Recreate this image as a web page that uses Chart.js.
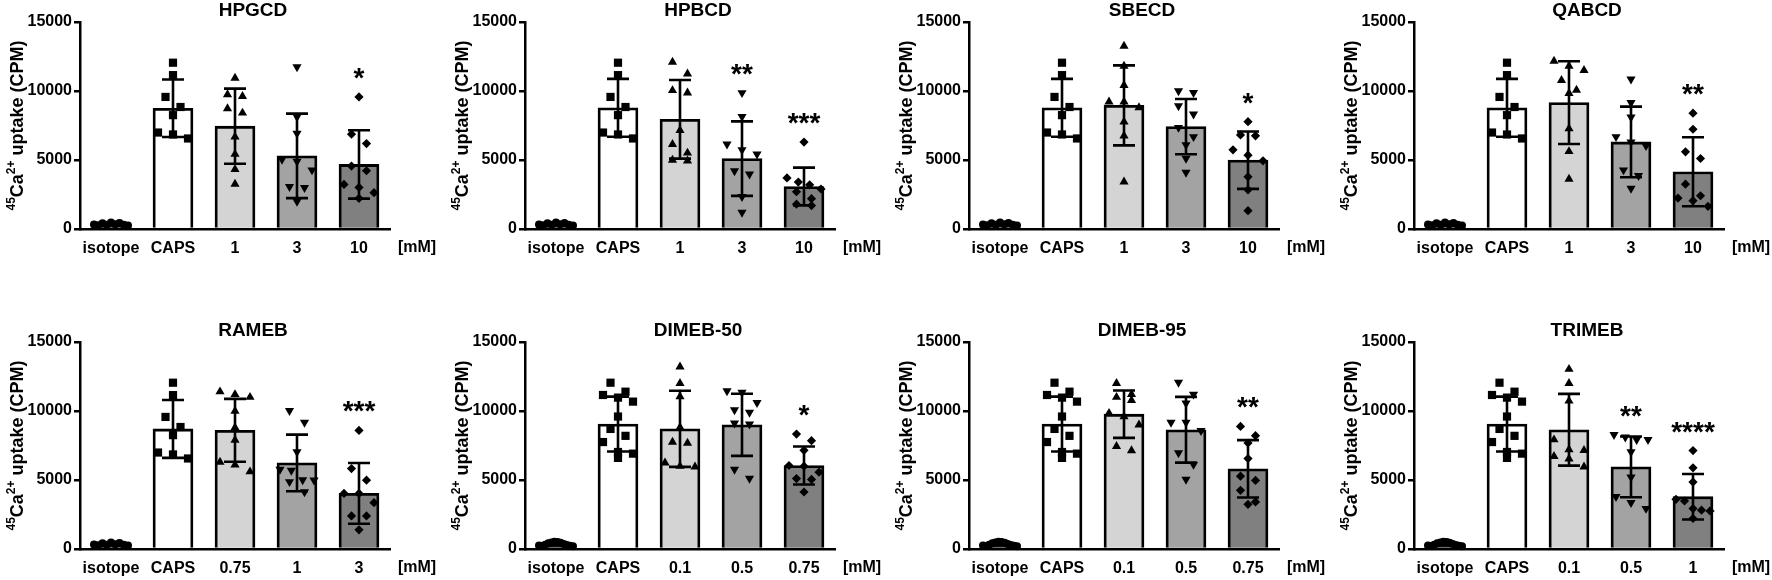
<!DOCTYPE html>
<html>
<head>
<meta charset="utf-8">
<script src="https://cdn.jsdelivr.net/npm/chart.js@4.4.1/dist/chart.umd.min.js"></script>
<style>
  html, body { margin: 0; padding: 0; background: #fff; width: 1772px; height: 580px; overflow: hidden; }
  canvas { position: absolute; }
</style>
</head>
<body>
<script>
// panel titles and x categories
const panelTitles = ["HPGCD", "HPBCD", "SBECD", "QABCD", "RAMEB", "DIMEB-50", "DIMEB-95", "TRIMEB"];
const doseLabels = [
  ["isotope", "CAPS", "1", "3", "10"],
  ["isotope", "CAPS", "1", "3", "10"],
  ["isotope", "CAPS", "1", "3", "10"],
  ["isotope", "CAPS", "1", "3", "10"],
  ["isotope", "CAPS", "0.75", "1", "3"],
  ["isotope", "CAPS", "0.1", "0.5", "0.75"],
  ["isotope", "CAPS", "0.1", "0.5", "0.75"],
  ["isotope", "CAPS", "0.1", "0.5", "1"],
];
const yTicks = [0, 5000, 10000, 15000];

// bar heights (mean) and SD per panel
const barMeans = [
  [360, 8750, 7450, 5300, 4680],
  [360, 8780, 7950, 5100, 3080],
  [360, 8780, 8960, 7420, 4990],
  [360, 8780, 9160, 6310, 4150],
  [360, 8700, 8600, 6240, 4030],
  [360, 9050, 8710, 9000, 6050],
  [360, 9050, 9770, 8640, 5810],
  [360, 9050, 8640, 5950, 3790],
];
const barSD = [
  [80, 2080, 2720, 3060, 2480],
  [80, 2100, 2850, 2700, 1370],
  [80, 2100, 2900, 2000, 2080],
  [80, 2100, 3000, 2560, 2500],
  [80, 2100, 2280, 2050, 2200],
  [100, 1990, 2760, 2250, 1380],
  [100, 1990, 1720, 2380, 2080],
  [100, 1990, 2600, 2200, 1650],
];
const starLabels = [
  ["", "", "", "", "*"],
  ["", "", "", "**", "***"],
  ["", "", "", "", "*"],
  ["", "", "", "", "**"],
  ["", "", "", "", "***"],
  ["", "", "", "", "*"],
  ["", "", "", "", "**"],
  ["", "", "", "**", "****"],
];

// individual measurements
const isotopeA = [330, 270, 420, 300, 480, 350, 440, 300, 250];
const isotopeB = [250, 220, 300, 410, 480, 530, 510, 460, 370, 290, 240, 200];
const capsA = [12050, 11150, 9570, 8840, 8250, 6990, 6850, 6560];
const capsB = [12050, 11400, 11160, 10970, 10680, 9600, 8700, 8200, 7750, 7030, 6910, 6600];

const hpgcdPts = [
  [10940, 9740, 9620, 8720, 8410, 6680, 5420, 4330, 3250],
  [11740, 8120, 6920, 5040, 4900, 4270, 3060, 3000, 2000],
  [9570, 6870, 6190, 4560, 4220, 3230, 3010, 2630, 2220],
];
const hpbcdPts = [
  [12090, 11250, 10040, 9870, 7150, 6140, 5510, 4990, 4940],
  [9870, 8140, 6140, 5730, 5420, 4210, 3970, 2340, 1200],
  [6300, 3700, 3400, 3200, 2900, 2700, 2200, 1800, 1700],
];
const sbecdPts = [
  [13250, 11810, 10410, 9210, 9210, 8800, 7760, 6750, 3420],
  [10000, 9880, 8920, 8320, 7350, 6680, 6100, 5110, 4100],
  [7780, 6820, 6750, 5740, 5350, 4940, 3780, 2840, 1330],
];
const qabcdPts = [
  [12170, 11810, 11500, 10770, 10070, 9830, 7280, 5620, 3620],
  [10850, 9160, 8100, 6680, 6300, 6030, 4270, 3860, 2940],
  [8390, 7230, 5590, 5110, 3250, 2410, 2240, 2050, 1640],
];
const ramebPts = [
  [11400, 11200, 11000, 10000, 8800, 7900, 6300, 6100, 5600],
  [10030, 9170, 7030, 5760, 5690, 5000, 4990, 4870, 4130],
  [8590, 5830, 4990, 4030, 4030, 3360, 2400, 2400, 1390],
];
const dimeb50Pts = [
  [13200, 12000, 11040, 8810, 7750, 7680, 6240, 6000, 5950],
  [11450, 11350, 10610, 10080, 9900, 9120, 9050, 5760, 5110],
  [8330, 7850, 7150, 6050, 6000, 5570, 5100, 5040, 4130],
];
const dimeb95Pts = [
  [12000, 11210, 11000, 10780, 9840, 9600, 9000, 7440, 7130],
  [12070, 11210, 10560, 9170, 9170, 8570, 6960, 6120, 5040],
  [8880, 8210, 7680, 6550, 5280, 4970, 4250, 3410, 3240],
];
const trimebPts = [
  [13030, 12000, 10730, 7920, 7200, 7150, 6720, 6530, 5950],
  [8280, 8110, 7920, 7920, 7030, 5210, 3790, 3360, 2930],
  [7130, 5880, 4850, 3600, 3480, 2930, 2810, 2760, 2210],
];

const panelPoints = [
  [isotopeA, capsA, ...hpgcdPts],
  [isotopeA, capsA, ...hpbcdPts],
  [isotopeA, capsA, ...sbecdPts],
  [isotopeA, capsA, ...qabcdPts],
  [isotopeA, capsA, ...ramebPts],
  [isotopeB, capsB, ...dimeb50Pts],
  [isotopeB, capsB, ...dimeb95Pts],
  [isotopeB, capsB, ...trimebPts],
];

// look
const FONT = "'Liberation Sans', Arial, sans-serif";
const barFills = ["#3c3c3c", "#ffffff", "#d4d4d4", "#a3a3a3", "#808080"];
const markers = [
  { style: "circle", rot: 0, r: 4 },
  { style: "rect", rot: 0, r: 5.8 },
  { style: "triangle", rot: 0, r: 5.3 },
  { style: "triangle", rot: 180, r: 5.3 },
  { style: "rectRot", rot: 0, r: 4.6 },
];
const PLOT_TOP = 22, PLOT_H = 207, PLOT_W = 310, AXIS_LEFT = 80;

Chart.defaults.font.family = FONT;
Chart.defaults.color = "#000";

// spread points sideways like a scatter dot plot (layout only)
function spreadX(values, idx) {
  const pxPerVal = PLOT_H / 15000, pxPerCat = PLOT_W / 5;
  const order = values.map((v, k) => k).sort((a, b) => values[b] - values[a]);
  const clusters = [];
  order.forEach(k => {
    const last = clusters[clusters.length - 1];
    if (last && (values[last[0]] - values[k]) * pxPerVal < 12) last.push(k);
    else clusters.push([k]);
  });
  const pts = [];
  clusters.forEach(c => {
    c.sort((a, b) => a - b);
    const gap = c.length > 1 ? Math.min(15, 34 / (c.length - 1)) : 0;
    c.forEach((k, j) => {
      const dx = (j - (c.length - 1) / 2) * gap;
      pts.push({ x: idx + dx / pxPerCat, y: values[k] });
    });
  });
  return pts;
}

const panelDecor = {
  id: "panelDecor",
  afterDatasetDraw(chart, args, opts) {
    if (args.index !== 0) return;
    const p = opts.panel;
    const { ctx } = chart;
    const x = chart.scales.x, y = chart.scales.y;
    ctx.save();
    ctx.strokeStyle = "#000";
    ctx.lineWidth = 2.6;
    barMeans[p].forEach((m, i) => {
      const cx = x.getPixelForValue(i);
      const top = y.getPixelForValue(m + barSD[p][i]);
      const bot = y.getPixelForValue(Math.max(0, m - barSD[p][i]));
      ctx.beginPath();
      ctx.moveTo(cx, top); ctx.lineTo(cx, bot);
      ctx.moveTo(cx - 11, top); ctx.lineTo(cx + 11, top);
      ctx.moveTo(cx - 11, bot); ctx.lineTo(cx + 11, bot);
      ctx.stroke();
    });
    ctx.restore();
  },
  afterDraw(chart, args, opts) {
    const p = opts.panel;
    const { ctx, chartArea } = chart;
    const x = chart.scales.x, y = chart.scales.y;
    ctx.save();
    ctx.fillStyle = "#000";

    // title
    ctx.font = "bold 19px " + FONT;
    ctx.textAlign = "center";
    ctx.textBaseline = "middle";
    ctx.fillText(panelTitles[p], (chartArea.left + chartArea.right) / 2 + 18, 11);

    // unit label
    ctx.font = "bold 16px " + FONT;
    ctx.fillText("[mM]", chartArea.right + 27, chartArea.bottom + 19);

    // significance stars
    ctx.font = "bold 28px " + FONT;
    ctx.textBaseline = "alphabetic";
    starLabels[p].forEach((s, i) => {
      if (!s) return;
      const top = Math.max(...panelPoints[p][i]);
      const yc = y.getPixelForValue(top) - 26;
      ctx.fillText(s, x.getPixelForValue(i), yc + 16);
    });

    // y axis title with superscripts
    const parts = [
      { t: "45", sup: true },
      { t: "Ca", sup: false },
      { t: "2+", sup: true },
      { t: " uptake (CPM)", sup: false },
    ];
    const mainFont = "bold 18px " + FONT, supFont = "bold 12px " + FONT;
    let total = 0;
    parts.forEach(pt => {
      ctx.font = pt.sup ? supFont : mainFont;
      pt.w = ctx.measureText(pt.t).width;
      total += pt.w;
    });
    ctx.translate(17, (chartArea.top + chartArea.bottom) / 2);
    ctx.rotate(-Math.PI / 2);
    ctx.textAlign = "left";
    let u = -total / 2;
    parts.forEach(pt => {
      ctx.font = pt.sup ? supFont : mainFont;
      ctx.fillText(pt.t, u, pt.sup ? -2 : 6);
      u += pt.w;
    });
    ctx.restore();
  },
};

panelTitles.forEach((title, p) => {
  const row = Math.floor(p / 4), col = p % 4;
  const canvas = document.createElement("canvas");
  const w = 443, h = row === 0 ? 300 : 260;
  canvas.width = w; canvas.height = h;
  canvas.style.left = Math.round(col * 444.67) + "px";
  canvas.style.top = (row * 320) + "px";
  document.body.appendChild(canvas);

  const scatterSets = panelPoints[p].map((vals, i) => ({
    type: "scatter",
    data: spreadX(vals, i),
    xAxisID: "x2",
    yAxisID: "y",
    pointStyle: markers[i].style,
    rotation: markers[i].rot,
    pointRadius: markers[i].r,
    pointBackgroundColor: "#000",
    pointBorderWidth: 0,
    clip: false,
    order: 0,
  }));

  new Chart(canvas, {
    type: "bar",
    data: {
      labels: doseLabels[p],
      datasets: [
        {
          type: "bar",
          data: barMeans[p],
          backgroundColor: barFills,
          borderColor: "#000",
          borderWidth: 2.8,
          grouped: false,
          barThickness: 40,
          xAxisID: "x",
          yAxisID: "y",
          order: 10,
        },
        ...scatterSets,
      ],
    },
    options: {
      responsive: false,
      animation: false,
      layout: { padding: { top: PLOT_TOP, right: w - AXIS_LEFT - PLOT_W, left: 0, bottom: 0 } },
      scales: {
        x: {
          type: "category",
          offset: true,
          grid: { display: false, drawTicks: false },
          border: { display: true, color: "#000", width: 2.5 },
          ticks: { font: { size: 16, weight: "bold" }, color: "#000", padding: 10, maxRotation: 0, autoSkip: false },
          afterFit: s => { s.height = s.chart.height - PLOT_TOP - PLOT_H; },
        },
        x2: { type: "linear", min: -0.5, max: 4.5, offset: false, display: false },
        y: {
          min: 0,
          max: 15000,
          afterBuildTicks: s => { s.ticks = yTicks.map(v => ({ value: v })); },
          ticks: { font: { size: 16, weight: "bold" }, color: "#000", padding: 2, callback: v => String(v) },
          grid: { display: true, drawOnChartArea: false, drawTicks: true, tickLength: 6, color: "#000", lineWidth: 2.5 },
          border: { display: true, color: "#000", width: 2.5 },
          afterFit: s => { s.width = AXIS_LEFT; },
        },
      },
      plugins: {
        legend: { display: false },
        tooltip: { enabled: false },
        panelDecor: { panel: p },
      },
    },
    plugins: [panelDecor],
  });
});
</script>
</body>
</html>
